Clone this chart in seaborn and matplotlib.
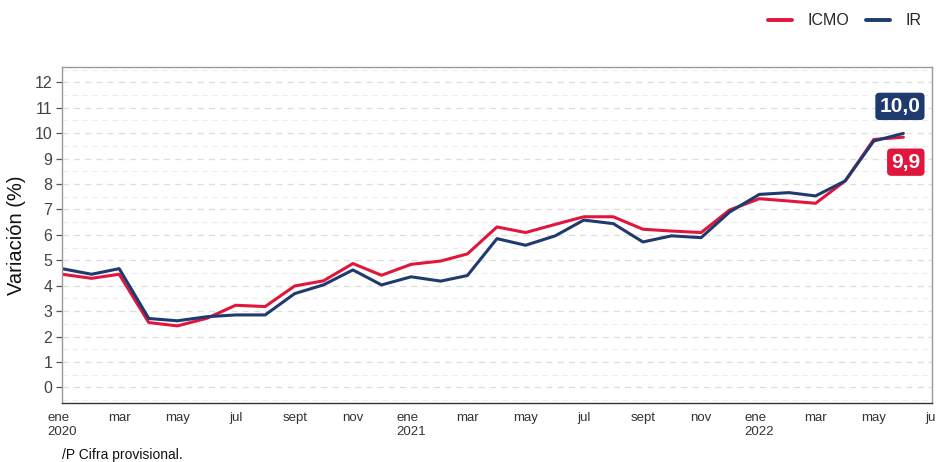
import numpy as np
import pandas as pd
import matplotlib
matplotlib.use("Agg")
import matplotlib.pyplot as plt
from matplotlib.ticker import MultipleLocator
import seaborn as sns

# Datos (variación %, mensual ene 2020 - jun 2022)
meses = pd.date_range("2020-01-01", "2022-06-01", freq="MS")
icmo = [4.45, 4.29, 4.45, 2.55, 2.42, 2.72, 3.23, 3.18, 3.99, 4.19, 4.87, 4.41,
        4.84, 4.97, 5.25, 6.31, 6.09, 6.41, 6.71, 6.71, 6.22, 6.15, 6.09, 6.98,
        7.42, 7.33, 7.24, 8.12, 9.75, 9.84]
ir = [4.67, 4.45, 4.67, 2.71, 2.62, 2.78, 2.85, 2.85, 3.69, 4.03, 4.62, 4.03,
      4.35, 4.18, 4.40, 5.85, 5.59, 5.96, 6.58, 6.44, 5.72, 5.96, 5.89, 6.90,
      7.59, 7.66, 7.53, 8.12, 9.69, 9.99]
series = ["ICMO", "IR"]
etiquetas = {"ICMO": "9,9", "IR": "10,0"}
colores = {"ICMO": "#E0163C", "IR": "#1F3A6E"}
meses_es = ["ene", "feb", "mar", "abr", "may", "jun", "jul", "ago", "sept", "oct", "nov", "dic"]

df = pd.concat([
    pd.DataFrame({"fecha": meses, "valor": icmo, "serie": "ICMO"}),
    pd.DataFrame({"fecha": meses, "valor": ir, "serie": "IR"}),
])

sns.set_style("white")
plt.rcParams["font.family"] = ["Liberation Sans", "DejaVu Sans"]
narrow = ["Liberation Sans Narrow", "Liberation Sans", "DejaVu Sans"]

fig = plt.figure(figsize=(9.36, 4.62), dpi=100)
ax = fig.add_axes([0.0662, 0.1284, 0.9295, 0.7266])

sns.lineplot(data=df, x="fecha", y="valor", hue="serie", hue_order=series,
             palette=colores, linewidth=2.2, ax=ax, legend=False)

# etiquetas del último dato
for s, dy in [("IR", 27), ("ICMO", -25)]:
    ult = df[df["serie"] == s].iloc[-1]
    ax.annotate(etiquetas[s], xy=(ult["fecha"], ult["valor"]),
                xytext=(17, dy), textcoords="offset pixels",
                ha="right", va="center", color="white", fontsize=15,
                fontweight="bold",
                bbox=dict(boxstyle="round,pad=0.2,rounding_size=0.2",
                          fc=colores[s], ec="none"))

ax.set_ylim(-0.6, 12.6)
ax.yaxis.set_major_locator(MultipleLocator(1))
ax.yaxis.set_minor_locator(MultipleLocator(0.5))
ax.grid(axis="y", which="major", color="#dedede", linestyle=(0, (5, 4)), linewidth=0.9)
ax.grid(axis="y", which="minor", color="#ececec", linestyle=(0, (5, 4)), linewidth=0.8)
ax.set_axisbelow(True)

ax.set_xlim(pd.Timestamp("2020-01-01"), pd.Timestamp("2022-07-01"))
ticks = pd.date_range("2020-01-01", "2022-07-01", freq="2MS")
ax.set_xticks(ticks)
ax.set_xticklabels([meses_es[t.month - 1] + ("\n" + str(t.year) if t.month == 1 else "")
                    for t in ticks], fontfamily=narrow, fontsize=9.5, color="#333333",
                   ha="center", va="top", multialignment="left")
ax.tick_params(axis="x", length=4, width=0.9, color="#333333", pad=3)
ax.tick_params(axis="y", which="major", length=4, width=0.9, color="#555555",
               labelsize=11.5, labelcolor="#444444", pad=3, left=True)
ax.tick_params(axis="y", which="minor", length=0)

for lado in ["top", "right", "left"]:
    ax.spines[lado].set_color("#9a9a9a")
    ax.spines[lado].set_linewidth(1.0)
ax.spines["bottom"].set_color("#333333")
ax.spines["bottom"].set_linewidth(1.0)

ax.set_xlabel("")
ax.set_ylabel("Variación (%)", fontsize=14.5, color="#111111", labelpad=6)

handles = [plt.Line2D([], [], color=colores[s], linewidth=2.8) for s in series]
fig.legend(handles, series, loc="center right", bbox_to_anchor=(1.0, 0.955),
           ncol=2, frameon=False, fontsize=11.5, handlelength=1.5,
           handletextpad=1.0, columnspacing=1.0)

fig.text(0.0662, 0.016, "/P Cifra provisional.", fontfamily=narrow,
         fontsize=10, color="#111111", va="center", ha="left")

fig.savefig("out.png", dpi=100)
